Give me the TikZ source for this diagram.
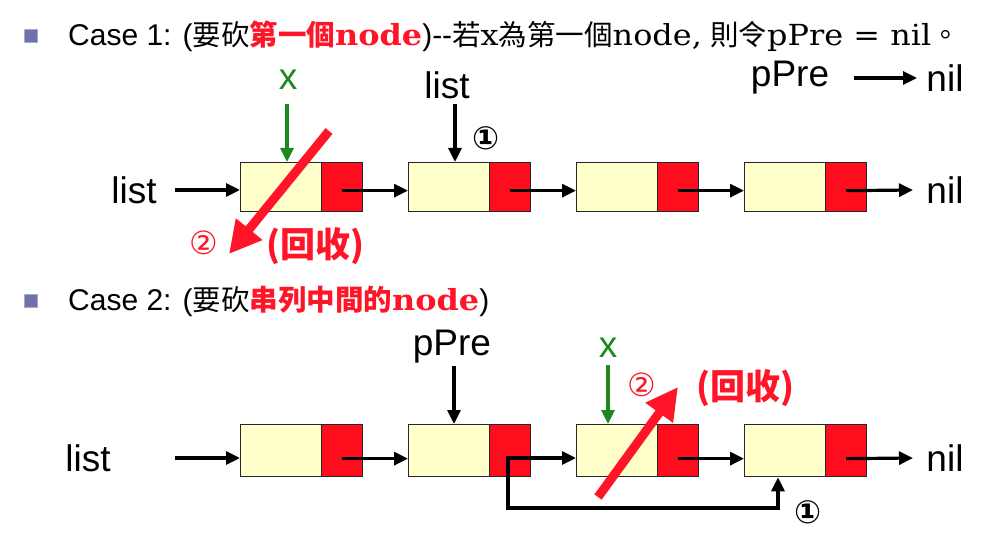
\documentclass[tikz,border=0pt]{standalone}
\usepackage{fontspec}
\setmainfont{Liberation Sans}
\newfontfamily\cjk{Noto Sans CJK TC}
\newfontfamily\hser{DejaVu Serif}
\newfontfamily\dv{DejaVu Sans}
\usetikzlibrary{arrows.meta}
\definecolor{cream}{RGB}{255,255,204}
\definecolor{boxred}{RGB}{255,13,28}
\definecolor{hred}{RGB}{255,20,40}
\definecolor{xgreen}{RGB}{30,135,30}
\definecolor{bul}{RGB}{112,112,170}
\tikzset{
  cell/.style={draw=black!85, line width=1.3pt, inner sep=0pt, anchor=north west, minimum width=81pt},
  datacell/.style={cell, fill=cream, minimum width=81pt},
  ptrcell/.style={cell, fill=boxred, minimum width=41pt},
  arr/.style={line width=3.2pt, -{Triangle[length=14pt,width=13pt]}},
  garr/.style={arr, draw=xgreen, color=xgreen},
  redarr/.style={line width=9pt, draw=hred, -{Triangle[length=32pt,width=32pt]}, color=hred},
  big/.style={inner sep=0pt, font=\fontsize{37}{40}\selectfont},
  circ/.style={inner sep=0pt, font=\dv\bfseries\fontsize{32}{34}\selectfont},
  rcirc/.style={inner sep=0pt, text=hred, font=\dv\fontsize{32}{34}\selectfont},
  recyc/.style={inner sep=0pt, text=hred, font=\cjk\bfseries\fontsize{35}{38}\selectfont},
  head/.style={inner sep=0pt, anchor=base west, font=\fontsize{30}{32}\selectfont},
  bullet/.style={fill=bul, draw=bul!60!white, line width=1pt, minimum size=13pt, inner sep=0pt}
}
\newcommand{\cj}[1]{{\cjk\fontsize{28.5}{30}\selectfont #1}}
\newcommand{\sr}[1]{{\hser\fontsize{29}{31}\selectfont\scalebox{1.1}[1]{#1}}}
\begin{document}
\begin{tikzpicture}[x=1pt,y=-1pt]
\useasboundingbox[fill=white] (0,0) rectangle (986,548);

% ---------- Case 1 heading ----------
\node[bullet] (b1) at (31,36) {};
\node[head] (h1) at (68,46) {Case 1: (\cj{要砍}\textcolor{hred}{\bfseries\cj{第一個}\sr{node}})-{}-\cj{若}\sr{x}\cj{為第一個}\sr{node,} \cj{則令}\sr{pPre = nil}\cj{。}};

% ---------- Case 1 row ----------
\node[datacell, minimum height=49pt] (a1) at (240,162) {};
\node[ptrcell, minimum height=49pt] (p1) at (321,162) {};
\node[datacell, minimum height=49pt] (a2) at (408,162) {};
\node[ptrcell, minimum height=49pt] (p2) at (489,162) {};
\node[datacell, minimum height=49pt] (a3) at (576,162) {};
\node[ptrcell, minimum height=49pt] (p3) at (657,162) {};
\node[datacell, minimum height=49pt] (a4) at (744,162) {};
\node[ptrcell, minimum height=49pt] (p4) at (825,162) {};

\node[big] (list1) at (134,190) {list};
\coordinate (l1s) at (175,190);
\draw[arr] (l1s) -- (a1.west |- l1s);
\draw[arr] ([yshift=-3.5pt]p1.center) -- ([yshift=-3.5pt]a2.west);
\draw[arr] ([yshift=-3.5pt]p2.center) -- ([yshift=-3.5pt]a3.west);
\draw[arr] ([yshift=-3.5pt]p3.center) -- ([yshift=-3.5pt]a4.west);
\node[big] (nil1) at (945,190) {nil};
\coordinate (n1e) at (913,190);
\draw[arr] ([yshift=-3.5pt]p4.center) -- (n1e);

\node[big, text=xgreen] (x1) at (288,80) {x};
\coordinate (x1s) at (287,104);
\draw[garr] (x1s) -- (x1s |- a1.north);
\node[big] (list1t) at (447,85) {list};
\coordinate (lts) at (455,104);
\draw[arr] (lts) -- (lts |- a2.north);
\node[circ] (c11) at (486,138) {①};

\node[big] (ppre0) at (790,78) {pPre};
\coordinate (pp0s) at (854,78);
\node[big] (nil0) at (945,78) {nil};
\coordinate (pp0e) at (917,78);
\draw[arr] (pp0s) -- (pp0e);

\coordinate (r1s) at (329,131);
\coordinate (r1e) at (229,254);
\draw[redarr] (r1s) -- (r1e);
\node[rcirc] (c12) at (204,243) {②};
\node[recyc] (rc1) at (315,246) {(回收)};

% ---------- Case 2 heading ----------
\node[bullet] (b2) at (31,301) {};
\node[head] (h2) at (68,311) {Case 2: (\cj{要砍}\textcolor{hred}{\bfseries\cj{串列中間的}\sr{node}})};

% ---------- Case 2 row ----------
\node[datacell, minimum height=52pt] (d1) at (240,424) {};
\node[ptrcell, minimum height=52pt] (q1) at (321,424) {};
\node[datacell, minimum height=52pt] (d2) at (408,424) {};
\node[ptrcell, minimum height=52pt] (q2) at (489,424) {};
\node[datacell, minimum height=52pt] (d3) at (576,424) {};
\node[ptrcell, minimum height=52pt] (q3) at (657,424) {};
\node[datacell, minimum height=52pt] (d4) at (744,424) {};
\node[ptrcell, minimum height=52pt] (q4) at (825,424) {};

\node[big] (list2) at (88,458) {list};
\coordinate (l2s) at (175,458);
\draw[arr] (l2s) -- (d1.west |- l2s);
\draw[arr] ([yshift=-8pt]q1.center) -- ([yshift=-8pt]d2.west);
\coordinate (k2) at (508,458);
\draw[arr] ([xshift=-1.6pt]k2) -- (d3.west |- k2);
\draw[arr] ([yshift=-8pt]q3.center) -- ([yshift=-8pt]d4.west);
\node[big] (nil2) at (945,458) {nil};
\coordinate (n2e) at (913,458);
\draw[arr] ([yshift=-8pt]q4.center) -- (n2e);

\coordinate (k2b) at (508,508);
\coordinate (k2c) at (778,508);
\draw[arr] (k2) -- (k2b) -- (k2c) -- (k2c |- d4.south);
\node[circ] (c21) at (808,512) {①};

\node[big] (ppre2) at (452,347) {pPre};
\coordinate (pp2s) at (454,366);
\draw[arr] (pp2s) -- (pp2s |- d2.north);
\node[big, text=xgreen] (x2) at (608,348) {x};
\coordinate (x2s) at (608,365);
\draw[garr] (x2s) -- (x2s |- d3.north);

\coordinate (r2s) at (598,497);
\coordinate (r2e) at (678,387);
\draw[redarr] (r2s) -- (r2e);
\node[rcirc] (c22) at (642,385) {②};
\node[recyc] (rc2) at (745,388) {(回收)};
\end{tikzpicture}
\end{document}
